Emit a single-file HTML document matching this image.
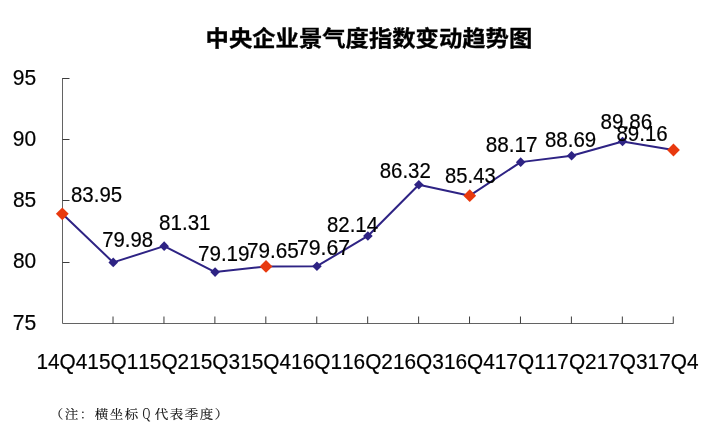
<!DOCTYPE html>
<html><head><meta charset="utf-8"><style>
html,body{margin:0;padding:0;background:#fff;width:725px;height:432px;overflow:hidden}
svg{position:absolute;left:0;top:0;will-change:transform}
.n{font-family:"Liberation Sans",Arial,sans-serif;font-size:21.5px;fill:#000;stroke:#000;stroke-width:0.2px}
.t{font-family:"Liberation Sans","Noto Sans CJK SC",sans-serif;font-size:23px;font-weight:bold;fill:#000;stroke:#000;stroke-width:0.35px}
.f{font-family:"Liberation Serif","Noto Serif CJK SC",serif;font-size:13.5px;fill:#111;stroke:#111;stroke-width:0.15px}
.q{font-family:"Liberation Serif",serif;font-size:15.7px;fill:#222}
</style></head><body>
<svg width="725" height="432" viewBox="0 0 725 432">
<text class="t" transform="translate(205.6 45.7) scale(1.015 0.92)">中央企业景气度指数变动趋势图</text>
<g><path d="M62.5 78 V323.5 H673.5" fill="none" stroke="#636363" stroke-width="1"/><path d="M62.5 78.5 H69.5" stroke="#3c3c3c" stroke-width="1"/><path d="M62.5 139.5 H69.5" stroke="#3c3c3c" stroke-width="1"/><path d="M62.5 200.5 H69.5" stroke="#3c3c3c" stroke-width="1"/><path d="M62.5 262.5 H69.5" stroke="#3c3c3c" stroke-width="1"/><path d="M113.03 316.5 V323.5" stroke="#3c3c3c" stroke-width="1"/><path d="M163.96 316.5 V323.5" stroke="#3c3c3c" stroke-width="1"/><path d="M214.89 316.5 V323.5" stroke="#3c3c3c" stroke-width="1"/><path d="M265.82 316.5 V323.5" stroke="#3c3c3c" stroke-width="1"/><path d="M316.75 316.5 V323.5" stroke="#3c3c3c" stroke-width="1"/><path d="M367.68 316.5 V323.5" stroke="#3c3c3c" stroke-width="1"/><path d="M418.61 316.5 V323.5" stroke="#3c3c3c" stroke-width="1"/><path d="M469.54 316.5 V323.5" stroke="#3c3c3c" stroke-width="1"/><path d="M520.47 316.5 V323.5" stroke="#3c3c3c" stroke-width="1"/><path d="M571.40 316.5 V323.5" stroke="#3c3c3c" stroke-width="1"/><path d="M622.33 316.5 V323.5" stroke="#3c3c3c" stroke-width="1"/><path d="M673.26 316.5 V323.5" stroke="#3c3c3c" stroke-width="1"/></g>
<polyline points="62.30,213.81 113.23,262.42 164.16,246.13 215.09,272.09 266.02,266.46 316.95,266.22 367.88,235.97 418.81,184.79 469.74,195.68 520.67,162.13 571.60,155.77 622.53,141.44 673.46,150.01" fill="none" stroke="#2e2384" stroke-width="2" stroke-linejoin="round"/>
<g><path d="M62.30 207.41L68.70 213.81L62.30 220.21L55.90 213.81Z" fill="#e8390e"/><path d="M113.23 257.62L118.03 262.42L113.23 267.22L108.43 262.42Z" fill="#2e2384"/><path d="M164.16 241.33L168.96 246.13L164.16 250.93L159.36 246.13Z" fill="#2e2384"/><path d="M215.09 267.29L219.89 272.09L215.09 276.89L210.29 272.09Z" fill="#2e2384"/><path d="M266.02 260.06L272.42 266.46L266.02 272.86L259.62 266.46Z" fill="#e8390e"/><path d="M316.95 261.42L321.75 266.22L316.95 271.02L312.15 266.22Z" fill="#2e2384"/><path d="M367.88 231.17L372.68 235.97L367.88 240.77L363.08 235.97Z" fill="#2e2384"/><path d="M418.81 179.99L423.61 184.79L418.81 189.59L414.01 184.79Z" fill="#2e2384"/><path d="M469.74 189.28L476.14 195.68L469.74 202.08L463.34 195.68Z" fill="#e8390e"/><path d="M520.67 157.33L525.47 162.13L520.67 166.93L515.87 162.13Z" fill="#2e2384"/><path d="M571.60 150.97L576.40 155.77L571.60 160.57L566.80 155.77Z" fill="#2e2384"/><path d="M622.53 136.64L627.33 141.44L622.53 146.24L617.73 141.44Z" fill="#2e2384"/><path d="M673.46 143.61L679.86 150.01L673.46 156.41L667.06 150.01Z" fill="#e8390e"/></g>
<g class="n"><text x="71.01" y="202.40" textLength="51.15" lengthAdjust="spacingAndGlyphs">83.95</text><text x="102.26" y="247.10" textLength="50.82" lengthAdjust="spacingAndGlyphs">79.98</text><text x="159.00" y="230.20" textLength="51.60" lengthAdjust="spacingAndGlyphs">81.31</text><text x="197.94" y="260.80" textLength="51.64" lengthAdjust="spacingAndGlyphs">79.19</text><text x="247.04" y="257.90" textLength="51.83" lengthAdjust="spacingAndGlyphs">79.65</text><text x="296.91" y="254.80" textLength="53.26" lengthAdjust="spacingAndGlyphs">79.67</text><text x="327.01" y="232.00" textLength="50.98" lengthAdjust="spacingAndGlyphs">82.14</text><text x="379.71" y="177.90" textLength="51.11" lengthAdjust="spacingAndGlyphs">86.32</text><text x="445.12" y="183.00" textLength="50.57" lengthAdjust="spacingAndGlyphs">85.43</text><text x="485.70" y="151.90" textLength="51.95" lengthAdjust="spacingAndGlyphs">88.17</text><text x="544.91" y="147.30" textLength="51.26" lengthAdjust="spacingAndGlyphs">88.69</text><text x="600.60" y="128.60" textLength="51.60" lengthAdjust="spacingAndGlyphs">89.86</text><text x="616.41" y="140.70" textLength="51.29" lengthAdjust="spacingAndGlyphs">89.16</text></g>
<g class="n"><text x="12.82" y="84.80" textLength="23.37" lengthAdjust="spacingAndGlyphs">95</text><text x="12.82" y="146.02" textLength="23.30" lengthAdjust="spacingAndGlyphs">90</text><text x="12.89" y="207.25" textLength="23.29" lengthAdjust="spacingAndGlyphs">85</text><text x="12.89" y="268.47" textLength="23.22" lengthAdjust="spacingAndGlyphs">80</text><text x="12.72" y="329.70" textLength="23.47" lengthAdjust="spacingAndGlyphs">75</text></g>
<g class="n"><text x="36.44" y="369.0" textLength="50.93" lengthAdjust="spacingAndGlyphs">14Q4</text><text x="87.36" y="369.0" textLength="50.93" lengthAdjust="spacingAndGlyphs">15Q1</text><text x="138.29" y="369.0" textLength="50.93" lengthAdjust="spacingAndGlyphs">15Q2</text><text x="189.22" y="369.0" textLength="50.93" lengthAdjust="spacingAndGlyphs">15Q3</text><text x="240.16" y="369.0" textLength="50.93" lengthAdjust="spacingAndGlyphs">15Q4</text><text x="291.09" y="369.0" textLength="50.93" lengthAdjust="spacingAndGlyphs">16Q1</text><text x="342.02" y="369.0" textLength="50.93" lengthAdjust="spacingAndGlyphs">16Q2</text><text x="392.95" y="369.0" textLength="50.93" lengthAdjust="spacingAndGlyphs">16Q3</text><text x="443.88" y="369.0" textLength="50.93" lengthAdjust="spacingAndGlyphs">16Q4</text><text x="494.81" y="369.0" textLength="50.93" lengthAdjust="spacingAndGlyphs">17Q1</text><text x="545.74" y="369.0" textLength="50.93" lengthAdjust="spacingAndGlyphs">17Q2</text><text x="596.66" y="369.0" textLength="50.93" lengthAdjust="spacingAndGlyphs">17Q3</text><text x="647.59" y="369.0" textLength="50.93" lengthAdjust="spacingAndGlyphs">17Q4</text></g>
<g class="f" transform="translate(0 418.8) scale(1 0.9)"><text x="49.70" y="0">（</text><text x="64.70" y="0">注</text><text x="79.70" y="0">：</text><text x="94.70" y="0">横</text><text x="109.70" y="0">坐</text><text x="124.70" y="0">标</text><text x="154.70" y="0">代</text><text x="169.70" y="0">表</text><text x="184.70" y="0">季</text><text x="199.70" y="0">度</text><text x="214.70" y="0">）</text></g>
<text class="q" transform="translate(146.4 418.6) scale(0.69 1)" text-anchor="middle">Q</text>
</svg>
</body></html>
